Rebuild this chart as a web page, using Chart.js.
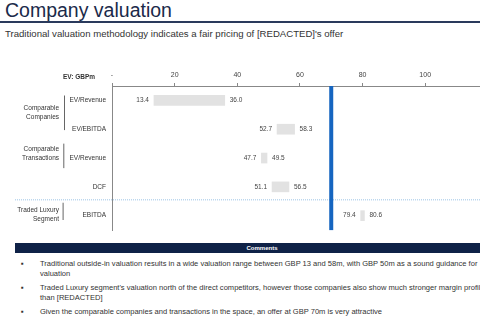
<!DOCTYPE html>
<html>
<head>
<meta charset="utf-8">
<script src="https://cdn.jsdelivr.net/npm/chart.js@4"></script>
<style>
  body { margin: 0; width: 480px; height: 320px; overflow: hidden; background: #fff; font-family: "Liberation Sans", Arial, sans-serif; position: relative; }
  #titre { position: absolute; left: 5px; top: -1px; font-size: 19.5px; color: #1b2a4a; white-space: nowrap; }
  #trait { position: absolute; left: 0; top: 21px; width: 480px; height: 2px; background: #2a3a5c; }
  #soustitre { position: absolute; left: 5px; top: 28px; font-size: 9.6px; color: #333; white-space: nowrap; }
  #zone { position: absolute; left: 0; top: 62px; width: 480px; height: 178px; }
  #bandeau { position: absolute; left: 15px; top: 243px; width: 494px; height: 10px; background: #0f2247; color: #fff; font-size: 6px; font-weight: bold; text-align: center; line-height: 10px; }
  ul { position: absolute; left: 0; top: 259px; margin: 0; padding: 0; list-style: none; font-size: 7.55px; color: #333; }
  li { position: relative; padding-left: 40px; line-height: 10px; margin-bottom: 4px; white-space: nowrap; }
  li::before { content: "\25AA"; position: absolute; left: 21px; top: 0; font-size: 8px; }
</style>
</head>
<body>
<div id="titre">Company valuation</div>
<div id="trait"></div>
<div id="soustitre">Traditional valuation methodology indicates a fair pricing of [REDACTED]'s offer</div>
<div id="zone"><canvas id="myChart"></canvas></div>
<div id="bandeau">Comments</div>
<ul>
  <li>Traditional outside-in valuation results in a wide valuation range between GBP 13 and 58m, with GBP 50m as a sound guidance for<br>valuation</li>
  <li>Traded Luxury segment's valuation north of the direct competitors, however those companies also show much stronger margin profile<br>than [REDACTED]</li>
  <li>Given the comparable companies and transactions in the space, an offer at GBP 70m is very attractive</li>
</ul>
<script>
// Données du graphique
const categories = ["EV/Revenue", "EV/EBITDA", "EV/Revenue", "DCF", "EBITDA"];
const bas = [13.4, 52.7, 47.7, 51.1, 79.4];
const hauts = [36.0, 58.3, 49.5, 56.5, 80.6];
const xTicks = [0, 20, 40, 60, 80, 100];
const offre = 70;
// groupes de lignes
const groupeLabels = [["Comparable", "Companies"], ["Comparable", "Transactions"], ["Traded Luxury", "Segment"]];
const groupeLignes = [[0, 1], [2, 3], [4, 4]];

const police = "Liberation Sans";

// Plugin pour les étiquettes, la ligne d'offre et les groupes
const decor = {
    id: "decor",
    afterDatasetsDraw(chart) {
        const ctx = chart.ctx;
        const x = chart.scales.x;
        const y = chart.scales.y;
        const zone = chart.chartArea;
        ctx.save();

        // étiquettes des barres
        ctx.font = "6.5px " + police;
        ctx.fillStyle = "#444";
        ctx.textBaseline = "middle";
        bas.forEach((v, i) => {
            const py = y.getPixelForValue(i);
            ctx.textAlign = "right";
            ctx.fillText(v.toFixed(1), x.getPixelForValue(v) - 5, py);
            ctx.textAlign = "left";
            ctx.fillText(hauts[i].toFixed(1), x.getPixelForValue(hauts[i]) + 5, py);
        });

        // ligne pointillée entre les transactions et le segment
        const sep = y.getPixelForValue(3.45);
        ctx.strokeStyle = "#9cc3e6";
        ctx.lineWidth = 1;
        ctx.setLineDash([1, 1]);
        ctx.beginPath();
        ctx.moveTo(15, sep);
        ctx.lineTo(480, sep);
        ctx.stroke();
        ctx.setLineDash([]);

        // ligne de l'offre
        const px = x.getPixelForValue(offre);
        ctx.fillStyle = "#1565c0";
        ctx.fillRect(px - 2, zone.top, 4, zone.bottom - zone.top);

        // en-tête de l'axe
        ctx.font = "bold 6.5px " + police;
        ctx.fillStyle = "#333";
        ctx.textAlign = "center";
        ctx.fillText("EV: GBPm", 79, x.bottom - 9);

        // groupes : accolade et libellé (décalages en fraction de ligne)
        const decalages = [[-0.17, 1.03, 0.44], [-0.5, 0.35, -0.15], [-0.45, 0.15, -0.05]];
        ctx.font = "6.5px " + police;
        groupeLabels.forEach((label, g) => {
            const [de, a] = groupeLignes[g];
            const [dh, db, dm] = decalages[g];
            const haut = y.getPixelForValue(de + dh);
            const basG = y.getPixelForValue(de + db);
            const milieu = y.getPixelForValue(de + dm);
            ctx.strokeStyle = "#666";
            ctx.beginPath();
            ctx.moveTo(64.5 - g * 0.7, haut);
            ctx.lineTo(64.5 - g * 0.7, basG);
            ctx.stroke();
            ctx.textAlign = "right";
            ctx.fillStyle = "#333";
            ctx.fillText(label[0], 59, milieu - 4.5);
            ctx.fillText(label[1], 59, milieu + 4.5);
        });
        ctx.restore();
    }
};

const ctx = document.getElementById("myChart").getContext("2d");
const myChart = new Chart(ctx, {
    type: "bar",
    data: {
        labels: categories,
        datasets: [{
            data: bas.map((v, i) => [v, hauts[i]]),
            backgroundColor: "#e2e2e2",
            barThickness: 10
        }]
    },
    options: {
        indexAxis: "y",
        responsive: true,
        maintainAspectRatio: false,
        animation: false,
        layout: { padding: { top: 0, right: 0, bottom: 4, left: 0 } },
        plugins: { legend: { display: false }, tooltip: { enabled: false } },
        scales: {
            x: {
                position: "top",
                min: 0,
                max: 117.5,
                afterBuildTicks: axis => { axis.ticks = xTicks.map(v => ({ value: v })); },
                afterFit: scale => { scale.height = 24; },
                grid: { drawOnChartArea: false, drawTicks: true, tickLength: 3, color: "#888" },
                border: { color: "#888" },
                ticks: {
                    font: { size: 7, family: police },
                    color: "#444",
                    padding: 4,
                    maxRotation: 0,
                    callback: v => v === 0 ? "-" : v
                }
            },
            y: {
                afterFit: scale => { scale.width = 112; },
                grid: { display: false, drawTicks: false },
                border: { color: "#888" },
                ticks: {
                    font: { size: 6.5, family: police },
                    color: "#333",
                    padding: 6
                }
            }
        }
    },
    plugins: [decor]
});
</script>
</body>
</html>
